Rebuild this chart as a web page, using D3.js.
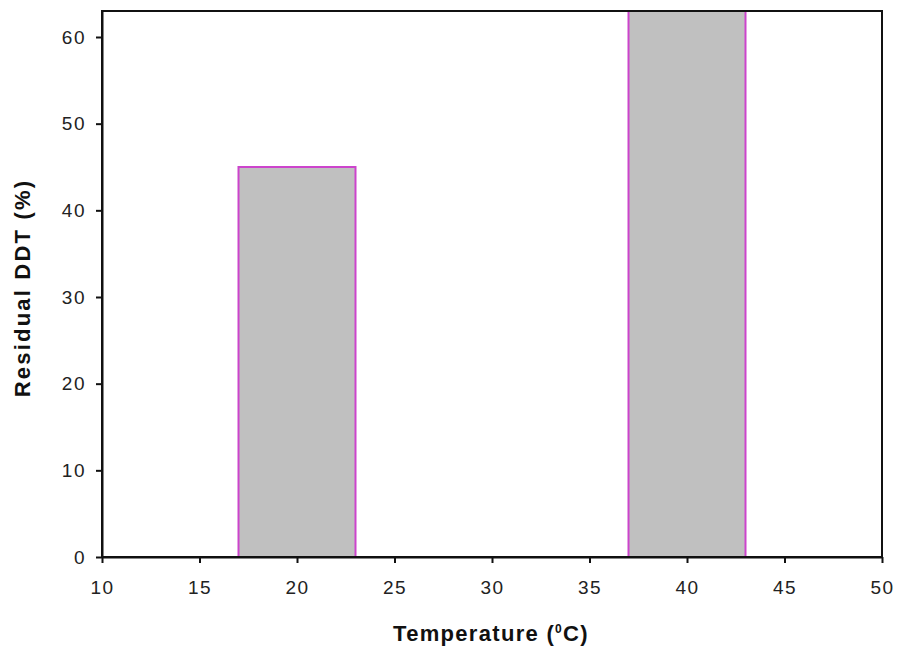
<!DOCTYPE html>
<html>
<head>
<meta charset="utf-8">
<script src="https://cdn.jsdelivr.net/npm/d3@7"></script>
<style>
  body { margin: 0; background: #fff; }
  svg { display: block; }
  .tick text { font-family: "Liberation Sans", Arial, sans-serif; font-size: 19px; letter-spacing: 1.5px; fill: #222; }
  .title { font-family: "Liberation Sans", Arial, sans-serif; font-weight: bold; font-size: 22px; fill: #111; }
</style>
</head>
<body>
<script>
// Residual DDT by incubation temperature
const temperatures = [20, 40];          // bar centres, °C
const barHalfWidth = [3, 3];            // each bar spans centre ± this, °C
const residualDDT = [45, 68];           // % remaining
const xTicks = [10, 15, 20, 25, 30, 35, 40, 45, 50];
const yTicks = [0, 10, 20, 30, 40, 50, 60];

const W = 901, H = 655;
const margin = { left: 102, right: 19, top: 11, bottom: 98 };

const svg = d3.select("body").append("svg").attr("width", W).attr("height", H);

const x = d3.scaleLinear().domain([10, 50]).range([margin.left, W - margin.right]);
const y = d3.scaleLinear().domain([0, 63]).range([H - margin.bottom, margin.top]);

svg.append("defs").append("clipPath").attr("id", "plot-clip")
  .append("rect")
  .attr("x", x(10)).attr("y", y(63))
  .attr("width", x(50) - x(10)).attr("height", y(0) - y(63));

// bars
svg.append("g").attr("clip-path", "url(#plot-clip)")
  .selectAll("rect")
  .data(temperatures.map((t, i) => ({ t, hw: barHalfWidth[i], v: residualDDT[i] })))
  .join("rect")
  .attr("x", d => x(d.t - d.hw))
  .attr("width", d => x(d.t + d.hw) - x(d.t - d.hw))
  .attr("y", d => y(d.v))
  .attr("height", d => y(0) - y(d.v))
  .attr("fill", "#c0c0c0")
  .attr("stroke", "#cc44cc")
  .attr("stroke-width", 2);

// frame
svg.append("rect")
  .attr("x", x(10)).attr("y", y(63))
  .attr("width", x(50) - x(10)).attr("height", y(0) - y(63))
  .attr("fill", "none").attr("stroke", "#111").attr("stroke-width", 2);

// axes
const xAxis = svg.append("g")
  .attr("transform", `translate(0,${y(0)})`)
  .call(d3.axisBottom(x).tickValues(xTicks).tickSize(6).tickPadding(18).tickSizeOuter(0));
const yAxis = svg.append("g")
  .attr("transform", `translate(${x(10)},0)`)
  .call(d3.axisLeft(y).tickValues(yTicks).tickSize(6).tickPadding(10).tickSizeOuter(0));

[xAxis, yAxis].forEach(g => {
  g.select(".domain").attr("stroke", "#111").attr("stroke-width", 2);
  g.selectAll(".tick line").attr("stroke", "#111").attr("stroke-width", 2);
});

// axis titles
const xt = svg.append("text").attr("class", "title")
  .attr("x", 491).attr("y", 641)
  .attr("text-anchor", "middle")
  .style("letter-spacing", "1.3px");
xt.append("tspan").text("Temperature (");
xt.append("tspan").attr("dy", -8).attr("font-size", 12).text("0");
xt.append("tspan").attr("dy", 8).text("C)");

svg.append("text").attr("class", "title")
  .attr("transform", `translate(30,288) rotate(-90)`)
  .attr("text-anchor", "middle")
  .style("letter-spacing", "2.2px")
  .text("Residual DDT (%)");
</script>
</body>
</html>
